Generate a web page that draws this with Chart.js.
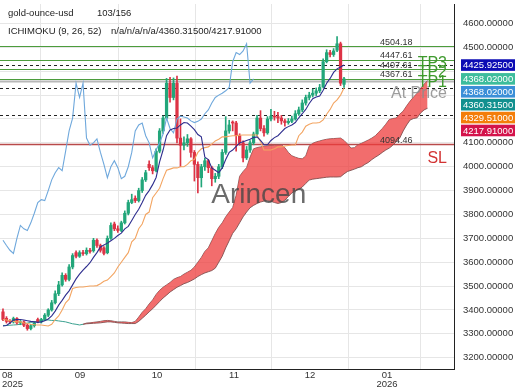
<!DOCTYPE html>
<html lang="en">
<head>
<meta charset="UTF-8">
<title>gold-ounce-usd ICHIMOKU</title>
<script src="https://cdn.jsdelivr.net/npm/chart.js"></script>
<style>
  html, body { margin: 0; padding: 0; background: #fff; }
  #wrap { width: 520px; height: 390px; }
</style>
</head>
<body>
<div id="wrap"><canvas id="ichimokuChart"></canvas></div>
<script>
// ---- data (one candle per trading session) ----
const opens = [
  3392, 3365, 3354, 3350, 3364, 3346, 3350, 3336, 3322, 3334,
  3360, 3350, 3360, 3378, 3400, 3430, 3468, 3505, 3545, 3528,
  3580, 3640, 3625, 3640, 3636, 3650, 3648, 3692, 3670, 3660,
  3640, 3700, 3760, 3740, 3733, 3765, 3805, 3850, 3868, 3858,
  3900, 3945, 4010, 3996, 3983, 4065, 4150, 4204, 4350, 4290,
  4350, 4120, 4090, 4100, 4117, 4060, 4010, 3954, 4000, 4025,
  3996, 3950, 3960, 4000, 4060, 4150, 4185, 4183, 4130, 4100,
  4037, 4070, 4100, 4137, 4204, 4160, 4142, 4200, 4212, 4210,
  4204, 4192, 4185, 4190, 4200, 4222, 4238, 4267, 4290, 4300,
  4308, 4318, 4335, 4440, 4478, 4470, 4488, 4515, 4345
];
const highs = [
  3405, 3372, 3360, 3370, 3368, 3356, 3354, 3340, 3340, 3350,
  3366, 3365, 3385, 3405, 3440, 3480, 3520, 3555, 3552, 3590,
  3636, 3648, 3648, 3650, 3660, 3658, 3700, 3698, 3676, 3665,
  3710, 3765, 3768, 3752, 3772, 3815, 3860, 3885, 3878, 3910,
  3955, 3985, 4025, 4005, 4075, 4160, 4212, 4370, 4375, 4372,
  4380, 4200, 4125, 4135, 4122, 4068, 4020, 4010, 4035, 4030,
  4002, 3972, 4010, 4072, 4210, 4195, 4192, 4190, 4138, 4108,
  4085, 4110, 4145, 4215, 4235, 4172, 4210, 4240, 4232, 4228,
  4215, 4200, 4202, 4212, 4235, 4250, 4280, 4300, 4312, 4325,
  4330, 4345, 4452, 4490, 4488, 4495, 4545, 4522, 4375
];
const lows = [
  3355, 3345, 3343, 3345, 3340, 3338, 3330, 3315, 3316, 3328,
  3346, 3345, 3355, 3372, 3395, 3425, 3460, 3500, 3520, 3522,
  3572, 3618, 3620, 3628, 3630, 3638, 3642, 3662, 3642, 3630,
  3635, 3695, 3732, 3725, 3728, 3760, 3798, 3845, 3850, 3852,
  3892, 3938, 3985, 3970, 3978, 4058, 4140, 4198, 4270, 4280,
  4100, 4000, 4070, 4085, 4040, 3940, 3890, 3915, 3985, 3975,
  3920, 3935, 3950, 3992, 4052, 4140, 4150, 4065, 4090, 4020,
  4030, 4060, 4092, 4130, 4150, 4128, 4136, 4192, 4195, 4185,
  4178, 4170, 4178, 4185, 4195, 4215, 4230, 4258, 4280, 4292,
  4298, 4310, 4330, 4435, 4460, 4462, 4482, 4340, 4332
];
const closes = [
  3360, 3352, 3350, 3364, 3346, 3350, 3336, 3322, 3334, 3345,
  3352, 3360, 3378, 3400, 3430, 3468, 3505, 3545, 3528, 3580,
  3628, 3625, 3640, 3636, 3650, 3645, 3692, 3670, 3650, 3637,
  3700, 3754, 3740, 3733, 3765, 3805, 3850, 3862, 3858, 3900,
  3945, 3975, 3996, 3983, 4065, 4150, 4204, 4350, 4290, 4350,
  4120, 4090, 4100, 4117, 4060, 4010, 3954, 4000, 4025, 3996,
  3950, 3960, 4000, 4060, 4150, 4175, 4183, 4130, 4100, 4037,
  4070, 4100, 4137, 4204, 4160, 4142, 4200, 4212, 4208, 4204,
  4192, 4185, 4190, 4200, 4222, 4238, 4267, 4290, 4300, 4308,
  4318, 4332, 4440, 4478, 4470, 4485, 4515, 4350, 4368
];
const tenkan = [
  3333, 3335, 3345, 3358, 3360, 3360, 3358, 3355, 3352, 3350,
  3348, 3350, 3355, 3362, 3375, 3395, 3420, 3440, 3462, 3480,
  3505, 3530, 3550, 3567, 3582, 3598, 3620, 3640, 3664, 3672,
  3680, 3690, 3700, 3712, 3722, 3740, 3750, 3775, 3800, 3822,
  3850, 3880, 3900, 3925, 3955, 4020, 4070, 4130, 4154, 4160,
  4162, 4175, 4185, 4183, 4170, 4155, 4135, 4125, 4040, 4030,
  3995, 3985, 3975, 3995, 4030, 4060, 4070, 4085, 4100, 4105,
  4110, 4115, 4122, 4125, 4110, 4092, 4092, 4110, 4122, 4130,
  4145, 4160, 4168, 4175, 4185, 4205, 4222, 4240, 4265, 4285,
  4292, 4296, 4320, 4350, 4370, 4395, 4410, 4418, 4425.925
];
const kijun = [
  3360, 3358, 3355, 3352, 3350, 3350, 3345, 3343, 3340, 3338,
  3337, 3337, 3335, 3333, 3340, 3360, 3375, 3400, 3430, 3445,
  3490, 3494, 3496, 3496, 3498, 3500, 3500, 3502, 3510, 3520,
  3525, 3540, 3555, 3580, 3600, 3620, 3640, 3685, 3700, 3740,
  3760, 3800, 3810, 3870, 3890, 3910, 3950, 3985, 3990, 3995,
  3995, 4000, 4000, 4010, 4025, 4030, 4060, 4075, 4080, 4083,
  4095, 4108, 4115, 4125, 4125, 4128, 4130, 4130, 4132, 4133,
  4133, 4133, 4133, 4133, 4105, 4070, 4070, 4070, 4075, 4083,
  4083, 4087, 4089, 4091, 4091, 4130, 4145, 4170, 4178, 4183,
  4183, 4185, 4196, 4220, 4240, 4267, 4280, 4300, 4329.51
];
// senkou spans, already displaced 26 sessions ahead (index 0 = first candle)
const senkouA = [
  3335, 3335, 3336, 3337, 3338, 3340, 3342, 3345, 3348, 3350,
  3352, 3356, 3358, 3358, 3356, 3356, 3354, 3352, 3350, 3346,
  3342, 3340, 3337, 3340, 3345, 3346, 3348, 3350, 3352, 3355,
  3356, 3355, 3352, 3350, 3350, 3350, 3348, 3347, 3352,
  3370, 3390, 3405, 3425, 3442, 3465, 3482, 3495, 3505, 3515,
  3528, 3535, 3540, 3550, 3558, 3566, 3580, 3600, 3620, 3645,
  3660, 3690, 3720, 3746, 3765, 3790, 3810, 3829, 3880, 3960,
  3980, 3996, 4040, 4075, 4080, 4083, 4086, 4088, 4089, 4090,
  4091, 4092, 4080, 4060, 4046, 4040, 4035, 4033, 4045, 4087,
  4098, 4104, 4108, 4112, 4115, 4117, 4118, 4119, 4120, 4110,
  4095, 4078, 4080, 4092, 4098, 4105, 4112, 4120, 4130, 4145,
  4160, 4178, 4198, 4202, 4204, 4220, 4233, 4255, 4275, 4292,
  4308, 4328, 4346, 4360.315
];
const senkouBStart = 23;
const senkouB = [
  3340, 3342, 3343, 3344, 3345, 3346, 3348, 3350, 3350, 3348,
  3346, 3345, 3344, 3343, 3343, 3343,
  3352, 3365, 3378, 3392, 3405, 3420, 3435, 3450, 3462, 3475,
  3485, 3495, 3502, 3510, 3515, 3522, 3530, 3540, 3548, 3555,
  3560, 3565, 3575, 3600, 3625, 3660, 3690, 3721, 3740, 3765,
  3790, 3810, 3828, 3838, 3846, 3852, 3856, 3858, 3855, 3850,
  3846, 3850, 3860, 3875, 3890, 3900, 3905, 3915, 3930, 3944,
  3948, 3950, 3952, 3954, 3956, 3957, 3957, 3957, 3958, 3970,
  3980, 3985, 3990, 3996, 4000, 4010, 4018, 4030, 4040, 4049,
  4060, 4070, 4078, 4090, 4105, 4120, 4150, 4175, 4196, 4202,
  4205, 4225, 4238, 4245
];
const chikouShift = 26;

const targetLevels = [4504.18, 4447.61, 4407.61, 4367.61];
const targetNames = ['', 'TP3', 'TP2', 'TP1'];
const stopLevel = 4094.46;
const atPriceLevel = 4368.02;
const dashLevels = [4425.925, 4329.51, 4217.91];
const greyLevel = 4360.315;

const axisMarks = [4425.925, 4368.02, 4368.02, 4360.315, 4329.51, 4217.91];
const axisMarkColors = ['#0c0cb4', '#3dbd9c', '#3b8fd8', '#12908f', '#f47e0a', '#d4134b'];

const xTickPos = [-0.29, 22.13, 44.26, 66.38, 88.22, 110.35, 129.6];
const xTickLabels = [['08', '2025'], '09', '10', '11', '12', ['01', '2026'], ''];
const yTicks = [3200, 3300, 3400, 3500, 3600, 3700, 3800, 3900, 4000, 4100, 4200, 4300, 4400, 4500, 4600];

// ---- chart ----
const UP = '#22a67a', DOWN = '#dd3345';
const candleColors = closes.map((c, i) => c >= opens[i] ? UP : DOWN);
const FONT = "'Liberation Sans', Arial, sans-serif";
Chart.defaults.font.family = FONT;

const overlay = {
  id: 'overlay',
  beforeDatasetsDraw(chart) {
    const { ctx, chartArea: a, scales: { y } } = chart;
    ctx.save();
    ctx.beginPath(); ctx.rect(a.left, a.top, a.width, a.height); ctx.clip();
    const hline = (v, color, w, dash) => {
      const py = Math.round(y.getPixelForValue(v)) + 0.5;
      ctx.strokeStyle = color; ctx.lineWidth = w; ctx.setLineDash(dash || []);
      ctx.beginPath(); ctx.moveTo(a.left, py); ctx.lineTo(a.right, py); ctx.stroke();
    };
    dashLevels.forEach(v => hline(v, '#222', 1, [3, 3]));
    hline(greyLevel, '#b8b8b8', 2);
    targetLevels.forEach(v => hline(v, '#4c9c3c', 1.2));
    hline(stopLevel, '#b84a4a', 1.6);
    ctx.restore();
  },
  afterDatasetsDraw(chart) {
    const { ctx, chartArea: a, scales: { y } } = chart;
    ctx.save();
    // level numbers
    ctx.font = '9px ' + FONT;
    ctx.fillStyle = '#333';
    ctx.textAlign = 'left';
    ctx.textBaseline = 'alphabetic';
    targetLevels.concat([stopLevel]).forEach(v => {
      ctx.fillText(v.toFixed(2), a.right - 74, y.getPixelForValue(v) - 1.5);
    });
    // TP / At Price / SL tags
    ctx.font = '16px ' + FONT;
    ctx.textAlign = 'right';
    ctx.fillStyle = '#3f9a2e';
    targetLevels.forEach((v, i) => {
      if (targetNames[i]) ctx.fillText(targetNames[i], a.right - 7, y.getPixelForValue(v) + 8);
    });
    ctx.fillStyle = 'rgba(140,140,140,0.85)';
    ctx.fillText('At Price', a.right - 7, y.getPixelForValue(atPriceLevel) + 19);
    ctx.fillStyle = '#d23232';
    ctx.fillText('SL', a.right - 7, y.getPixelForValue(stopLevel) + 19);
    // watermark
    ctx.font = '28px ' + FONT;
    ctx.textAlign = 'center';
    ctx.fillStyle = 'rgba(70,70,70,0.8)';
    ctx.fillText('Arincen', a.left + a.width * 0.57, a.top + a.height * 0.545);
    // header
    ctx.font = '9.5px ' + FONT;
    ctx.textAlign = 'left';
    ctx.fillStyle = '#222';
    ctx.fillText('gold-ounce-usd', 8, 16);
    ctx.fillText('103/156', 97, 16);
    ctx.fillText('ICHIMOKU (9, 26, 52)', 8, 34);
    ctx.fillText('n/a/n/a/n/a/4360.31500/4217.91000', 111, 34);
    ctx.restore();
  },
  afterDraw(chart) {
    const { ctx, chartArea: a, scales: { y } } = chart;
    ctx.save();
    const h = 11.6, gap = 12.9;
    const ys = [];
    axisMarks.forEach((v, i) => {
      const py = y.getPixelForValue(v);
      ys.push(i === 0 ? py : Math.max(py, ys[i - 1] + gap));
    });
    ctx.fillStyle = '#fff';
    ctx.fillRect(a.right + 2, ys[0] - h / 2 - 1, 66, ys[ys.length - 1] - ys[0] + h + 2);
    ctx.font = '9.5px ' + FONT;
    ctx.textBaseline = 'middle';
    ctx.textAlign = 'left';
    axisMarks.forEach((v, i) => {
      ctx.fillStyle = axisMarkColors[i];
      ctx.fillRect(a.right + 7, ys[i] - h / 2, 54, h);
      ctx.fillStyle = '#fff';
      ctx.fillText(v.toFixed(5), a.right + 9, ys[i] + 0.5);
    });
    ctx.restore();
  }
};

new Chart(document.getElementById('ichimokuChart'), {
  type: 'bar',
  data: {
    datasets: [
      {
        type: 'line',
        label: 'Senkou A',
        data: senkouA.map((v, j) => ({ x: j, y: v })),
        borderWidth: 1,
        borderColor: 'rgba(120,95,95,0.9)',
        segment: { borderColor: c => c.p1DataIndex <= senkouBStart ? '#3aa08f' : undefined },
        pointRadius: 0,
        fill: false,
        order: 10
      },
      {
        type: 'line',
        label: 'Senkou B',
        data: senkouB.map((v, k) => ({ x: k + senkouBStart, y: v })),
        borderWidth: 1,
        borderColor: 'rgba(130,80,80,0.9)',
        backgroundColor: 'rgba(238,60,60,0.75)',
        pointRadius: 0,
        fill: '-1',
        order: 9
      },
      {
        label: 'wick',
        data: highs.map((hv, i) => ({ x: i, y: [lows[i], hv] })),
        backgroundColor: candleColors,
        barThickness: 1,
        grouped: false,
        order: 5
      },
      {
        label: 'body',
        data: opens.map((o, i) => ({ x: i, y: [o, closes[i]] })),
        backgroundColor: candleColors,
        barThickness: 2.6,
        minBarLength: 1,
        grouped: false,
        order: 4
      },
      {
        type: 'line',
        label: 'Tenkan',
        data: tenkan.map((v, i) => ({ x: i, y: v })),
        borderColor: '#2e2e8e',
        borderWidth: 1.1,
        pointRadius: 0,
        order: 3
      },
      {
        type: 'line',
        label: 'Kijun',
        data: kijun.map((v, i) => ({ x: i, y: v })),
        borderColor: '#f3a562',
        borderWidth: 1.1,
        pointRadius: 0,
        order: 3
      },
      {
        type: 'line',
        label: 'Chikou',
        data: closes.slice(chikouShift).map((v, k) => ({ x: k, y: v })),
        borderColor: '#6fa8dc',
        borderWidth: 1.1,
        pointRadius: 0,
        order: 3
      }
    ]
  },
  options: {
    responsive: true,
    maintainAspectRatio: false,
    animation: false,
    layout: { padding: { top: 4, left: 0, right: 0, bottom: 0 } },
    plugins: { legend: { display: false }, tooltip: { enabled: false } },
    scales: {
      x: {
        type: 'linear',
        min: -0.86,
        max: 129.6,
        offset: false,
        afterBuildTicks: axis => { axis.ticks = xTickPos.map(v => ({ value: v })); },
        afterFit: axis => { axis.height = 21; axis.paddingLeft = 0; axis.paddingRight = 0; },
        grid: { color: '#e6e6e6', drawTicks: false },
        border: { color: '#222' },
        ticks: {
          align: 'inner',
          padding: 2,
          maxRotation: 0,
          autoSkip: false,
          color: '#333',
          font: { size: 9.5, lineHeight: 0.95 },
          callback: (v, i) => xTickLabels[i]
        }
      },
      y: {
        position: 'right',
        min: 3152.6,
        max: 4681.7,
        afterBuildTicks: axis => { axis.ticks = yTicks.map(v => ({ value: v })); },
        afterFit: axis => { axis.width = 66; axis.paddingTop = 0; axis.paddingBottom = 0; },
        grid: { color: '#e6e6e6', drawTicks: false },
        border: { color: '#222' },
        ticks: {
          padding: 9,
          color: '#333',
          font: { size: 9.5 },
          callback: v => Number(v).toFixed(5)
        }
      }
    }
  },
  plugins: [overlay]
});
</script>
</body>
</html>
